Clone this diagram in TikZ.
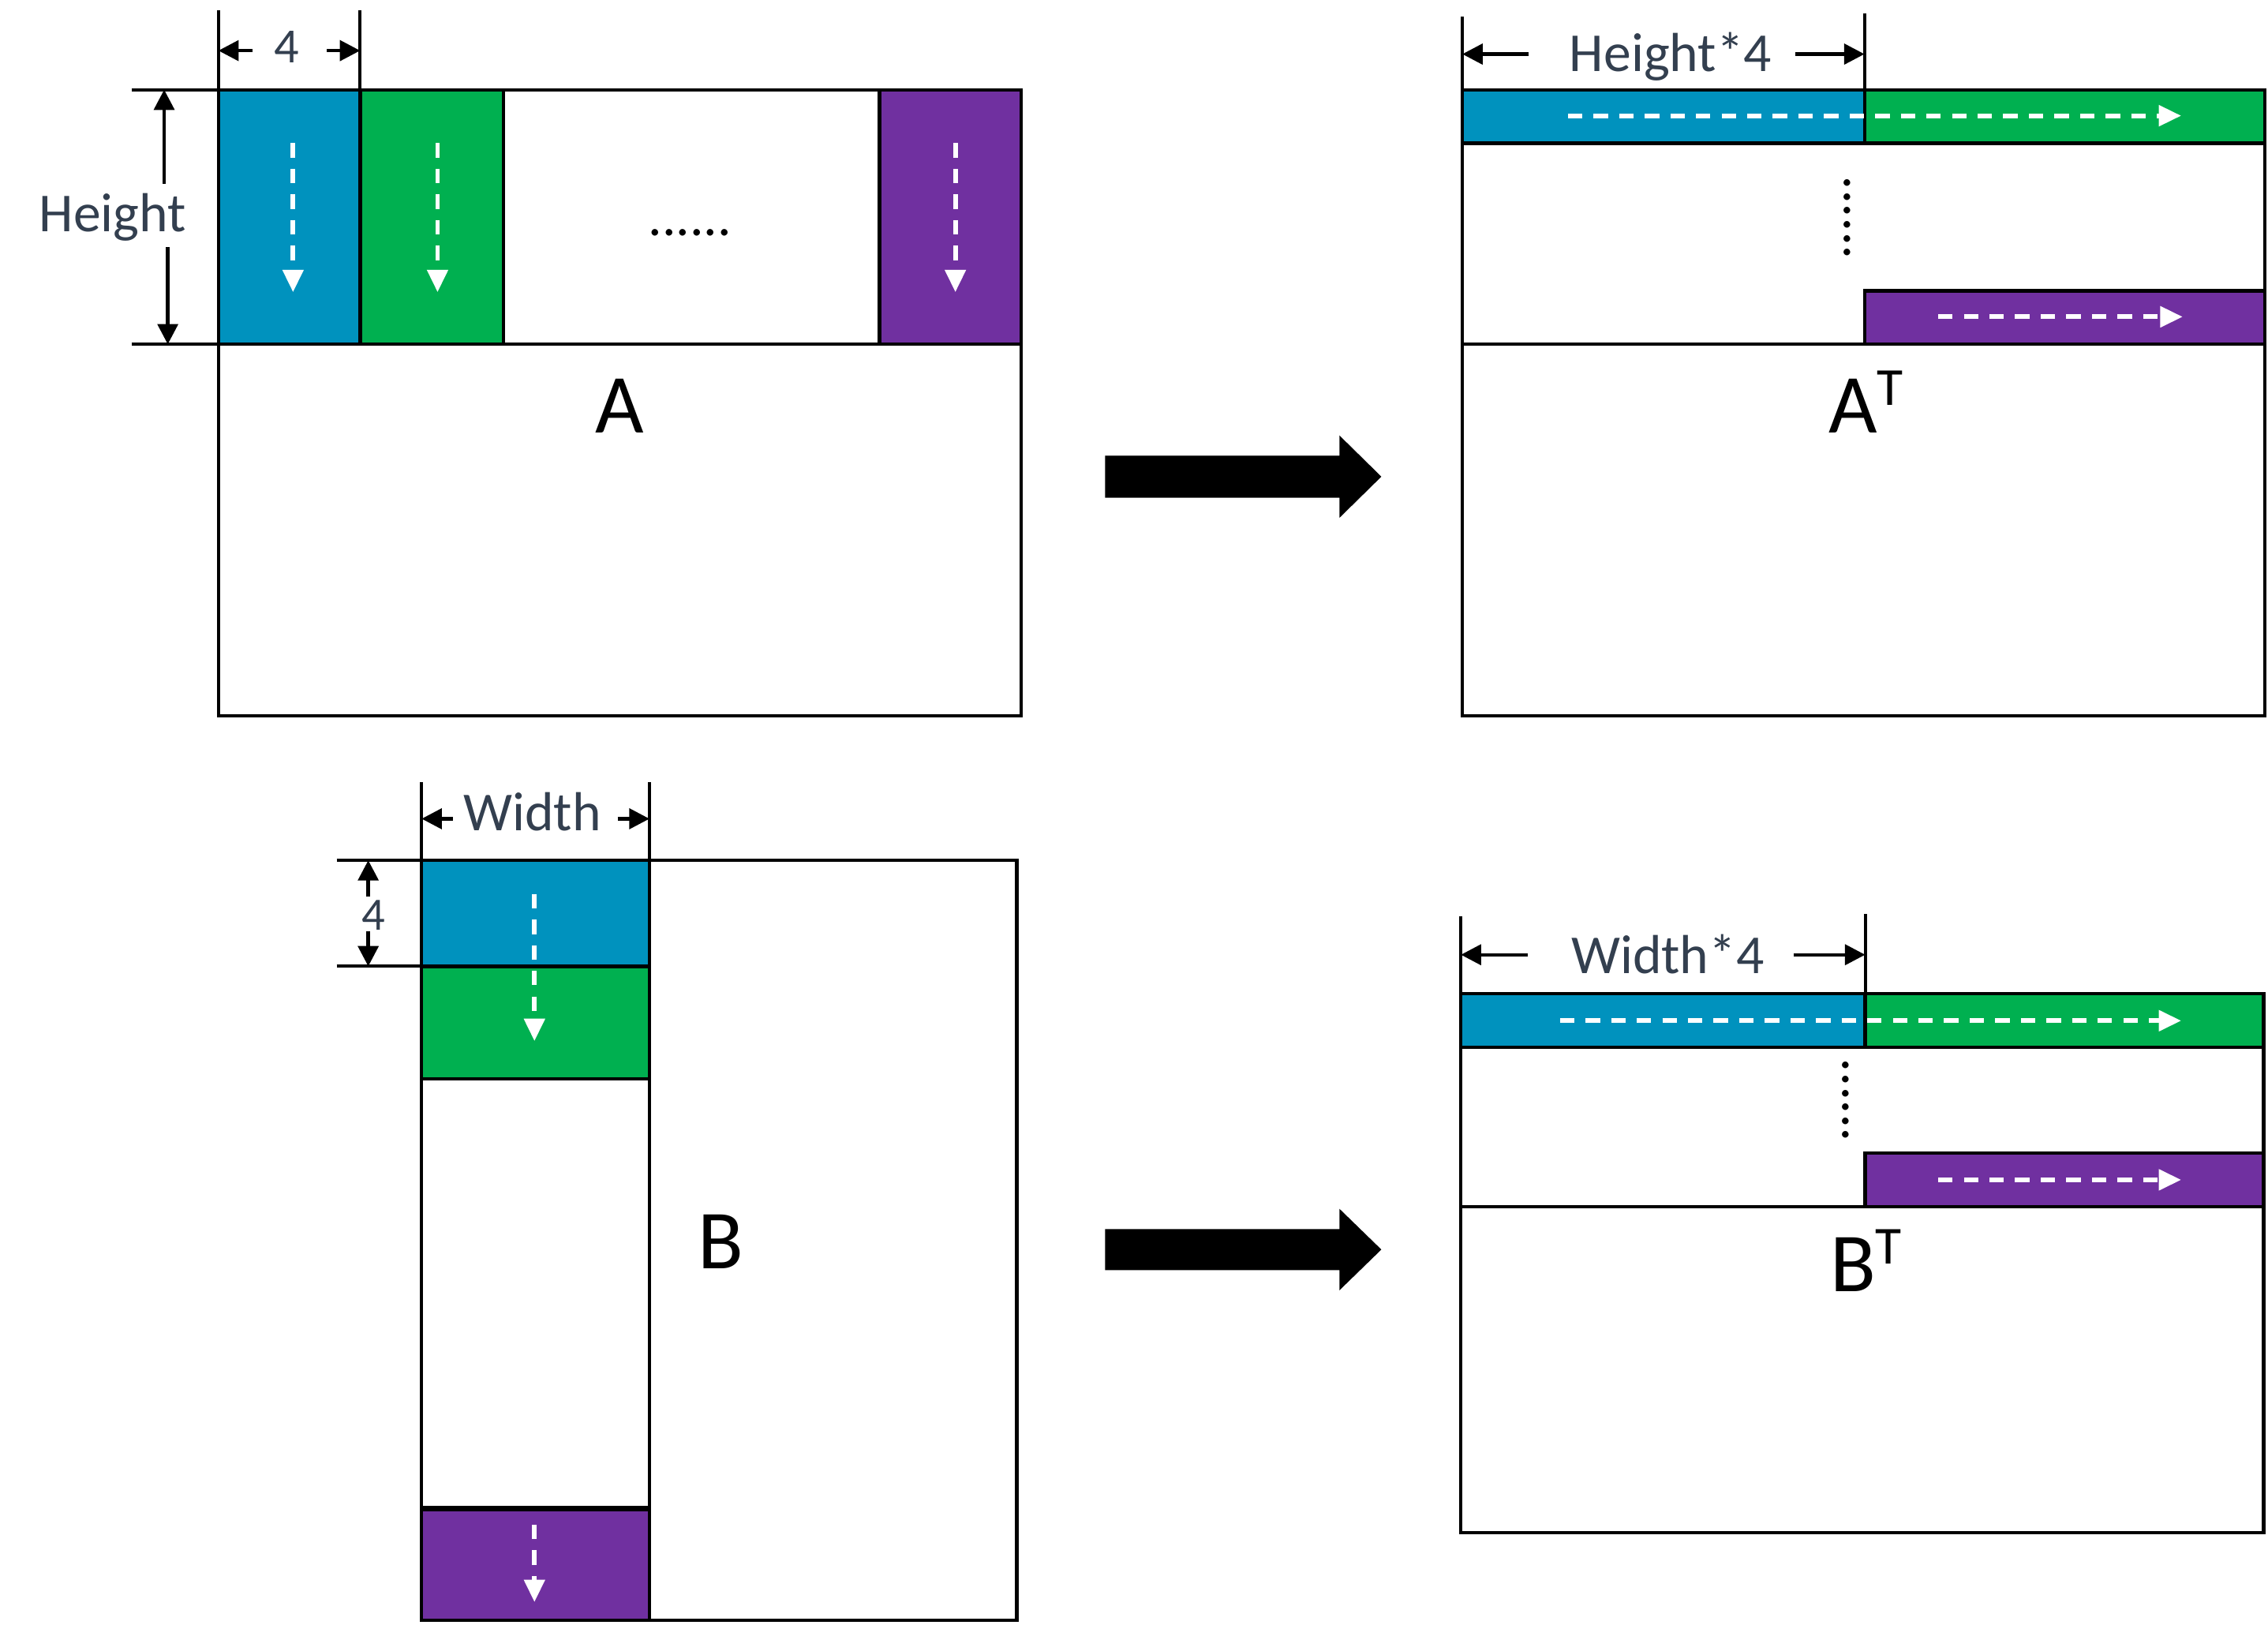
\documentclass[tikz,border=0pt]{standalone}
\usepackage{fontspec}
\setmainfont{Carlito}
\usetikzlibrary{arrows.meta}
\definecolor{cblue}{HTML}{0092BE}
\definecolor{cgreen}{HTML}{00B050}
\definecolor{cpurple}{HTML}{7030A0}
\definecolor{labc}{HTML}{333F4F}
\tikzset{
  mat/.style={draw=black, line width=2.3pt},
  dimline/.style={draw=black, line width=2.2pt},
  dimarrow/.style={draw=black, line width=2.4pt, -{Triangle[length=14pt,width=14pt]}},
  flow/.style={draw=white, line width=3.2pt, dash pattern=on 10pt off 7.7pt, -{Triangle[length=15.5pt,width=14pt]}},
  lab/.style={text=labc, font=\fontsize{38}{40}\selectfont, inner sep=0pt, anchor=base},
  biglab/.style={text=black, font=\fontsize{58}{60}\selectfont, inner sep=0pt, anchor=base},
  dotrow/.style={text=black, font=\fontsize{38}{40}\selectfont, inner sep=0pt, anchor=base},
  bigarrow/.style={fill=black},
}
\begin{document}
\begin{tikzpicture}[x=1pt,y=-1pt]
\useasboundingbox (0,0) rectangle (1568,1123.35);

% ---------------- Matrix A ----------------
\fill[cblue] (151,62) rectangle (249,238);
\fill[cgreen] (249,62) rectangle (348,238);
\fill[cpurple] (608,62) rectangle (706,238);
\draw[mat] (151,62) rectangle (706,495);
\draw[mat] (151,238) -- (706,238);
\draw[mat] (249,62) -- (249,238);
\draw[mat] (348,62) -- (348,238);
\draw[mat] (608,62) -- (608,238);
% width 4 dimension
\coordinate (a4L) at (151,35);
\coordinate (a4R) at (249,35);
\coordinate (a4Lt) at (174.6,35);
\coordinate (a4Rt) at (226,35);
\draw[dimline] (151,7) -- (151,62);
\draw[dimline] (249,7) -- (249,62);
\draw[dimarrow] (a4Lt) -- (a4L);
\draw[dimarrow] (a4Rt) -- (a4R);
\node[lab, font=\fontsize{34}{36}\selectfont] (a4) at (198,43.6) {4};
% height dimension
\coordinate (ahT) at (113.5,62);
\coordinate (ahTt) at (113.5,127);
\coordinate (ahB) at (116,238);
\coordinate (ahBt) at (116,171);
\draw[dimline] (91,62) -- (151,62);
\draw[dimline] (91,238) -- (151,238);
\draw[dimarrow] (ahTt) -- (ahT);
\draw[dimarrow] (ahBt) -- (ahB);
\node[lab] (aheight) at (78,160) {Height};
% flows
\coordinate (af1s) at (202.6,99);  \coordinate (af1e) at (202.6,202);
\coordinate (af2s) at (302.5,99);  \coordinate (af2e) at (302.5,202);
\coordinate (af3s) at (660.5,99);  \coordinate (af3e) at (660.5,202);
\draw[flow] (af1s) -- (af1e);
\draw[flow] (af2s) -- (af2e);
\draw[flow] (af3s) -- (af3e);
\node[dotrow] (adots) at (477,163) {......};
\node[biglab] (alab) at (428.5,299) {A};

% ---------------- Big arrows ----------------
\fill[bigarrow] (764,315) -- (926,315) -- (926,301) -- (955,329.5) -- (926,358) -- (926,344) -- (764,344) -- cycle;
\fill[bigarrow] (764,849.7) -- (926,849.7) -- (926,835.6) -- (955,863.8) -- (926,892) -- (926,878) -- (764,878) -- cycle;

% ---------------- Matrix A^T ----------------
\fill[cblue] (1011,62) rectangle (1289,99);
\fill[cgreen] (1289,62) rectangle (1566,99);
\fill[cpurple] (1289,201) rectangle (1566,238);
\draw[mat] (1011,62) rectangle (1566,495);
\draw[mat] (1011,99) -- (1566,99);
\draw[mat] (1011,238) -- (1566,238);
\draw[mat] (1289,62) -- (1289,99);
\draw[mat] (1289,238) -- (1289,201) -- (1566,201);
\coordinate (atL) at (1011,37.4);
\coordinate (atR) at (1289,37.4);
\coordinate (atLt) at (1057,37.4);
\coordinate (atRt) at (1241,37.4);
\draw[dimline] (1011,11.6) -- (1011,62);
\draw[dimline] (1289,9.3) -- (1289,62);
\draw[dimarrow] (atLt) -- (atL);
\draw[dimarrow] (atRt) -- (atR);
\node[lab] (atdim) at (1155,49.6) {Height*4};
\coordinate (atf1s) at (1084,80);  \coordinate (atf1e) at (1508,80);
\coordinate (atf2s) at (1340,219); \coordinate (atf2e) at (1509,219);
\draw[flow] (atf1s) -- (atf1e);
\draw[flow] (atf2s) -- (atf2e);
\node[dotrow, rotate=90] (atdots) at (1279,150.5) {......};
\node[biglab] (atlab) at (1290,299) {A\raisebox{19pt}{\fontsize{37}{37}\selectfont T}};

% ---------------- Matrix B ----------------
\fill[cblue] (291.5,594.7) rectangle (449,668);
\fill[cgreen] (291.5,668) rectangle (449,746);
\fill[cpurple] (291.5,1043) rectangle (449,1120);
\draw[mat] (291.5,594.7) rectangle (703,1120);
\draw[mat] (449,594.7) -- (449,1120);
\draw[mat] (291.5,668) -- (449,668);
\draw[mat] (291.5,746) -- (449,746);
\draw[mat, line width=3.6pt] (291.5,1043) -- (449,1043);
% width dimension
\coordinate (bwL) at (291.5,566);
\coordinate (bwR) at (449,566);
\coordinate (bwLt) at (313,566);
\coordinate (bwRt) at (427,566);
\draw[dimline] (291.5,540.6) -- (291.5,594.7);
\draw[dimline] (449,540.6) -- (449,594.7);
\draw[dimarrow] (bwLt) -- (bwL);
\draw[dimarrow] (bwRt) -- (bwR);
\node[lab] (bwidth) at (368,574) {Width};
% 4 dimension
\coordinate (b4T) at (254.6,594.7);
\coordinate (b4Tt) at (254.6,620);
\coordinate (b4B) at (254.6,668);
\coordinate (b4Bt) at (254.6,643.6);
\draw[dimline] (232.7,594.7) -- (291.5,594.7);
\draw[dimline] (232.7,668) -- (291.5,668);
\draw[dimarrow] (b4Tt) -- (b4T);
\draw[dimarrow] (b4Bt) -- (b4B);
\node[lab, font=\fontsize{32}{34}\selectfont] (b4) at (258,643) {4};
% flows
\coordinate (bf1s) at (369.5,618);  \coordinate (bf1e) at (369.5,719.7);
\coordinate (bf2s) at (369.5,1054); \coordinate (bf2e) at (369.5,1107.5);
\draw[flow] (bf1s) -- (bf1e);
\draw[flow] (bf2s) -- (bf2e);
\node[biglab] (blab) at (498.5,877) {B};

% ---------------- Matrix B^T ----------------
\fill[cblue] (1010,687) rectangle (1289.5,724);
\fill[cgreen] (1289.5,687) rectangle (1565,724);
\fill[cpurple] (1289.5,797) rectangle (1565,834);
\draw[mat] (1010,687) rectangle (1565,1059.5);
\draw[mat] (1010,724) -- (1565,724);
\draw[mat] (1010,834) -- (1565,834);
\draw[mat] (1289.5,687) -- (1289.5,724);
\draw[mat] (1289.5,834) -- (1289.5,797) -- (1565,797);
\coordinate (btL) at (1010,660);
\coordinate (btR) at (1289.5,660);
\coordinate (btLt) at (1056,660);
\coordinate (btRt) at (1240,660);
\draw[dimline] (1010,633.5) -- (1010,687);
\draw[dimline] (1289.5,632) -- (1289.5,687);
\draw[dimarrow] (btLt) -- (btL);
\draw[dimarrow] (btRt) -- (btR);
\node[lab] (btdim) at (1153,672.7) {Width*4};
\coordinate (btf1s) at (1078.5,705.6); \coordinate (btf1e) at (1508,705.6);
\coordinate (btf2s) at (1340,815.6);   \coordinate (btf2e) at (1508,815.6);
\draw[flow] (btf1s) -- (btf1e);
\draw[flow] (btf2s) -- (btf2e);
\node[dotrow, rotate=90] (btdots) at (1278,760.5) {......};
\node[biglab] (btlab) at (1290,893) {B\raisebox{19pt}{\fontsize{37}{37}\selectfont T}};
\end{tikzpicture}
\end{document}
